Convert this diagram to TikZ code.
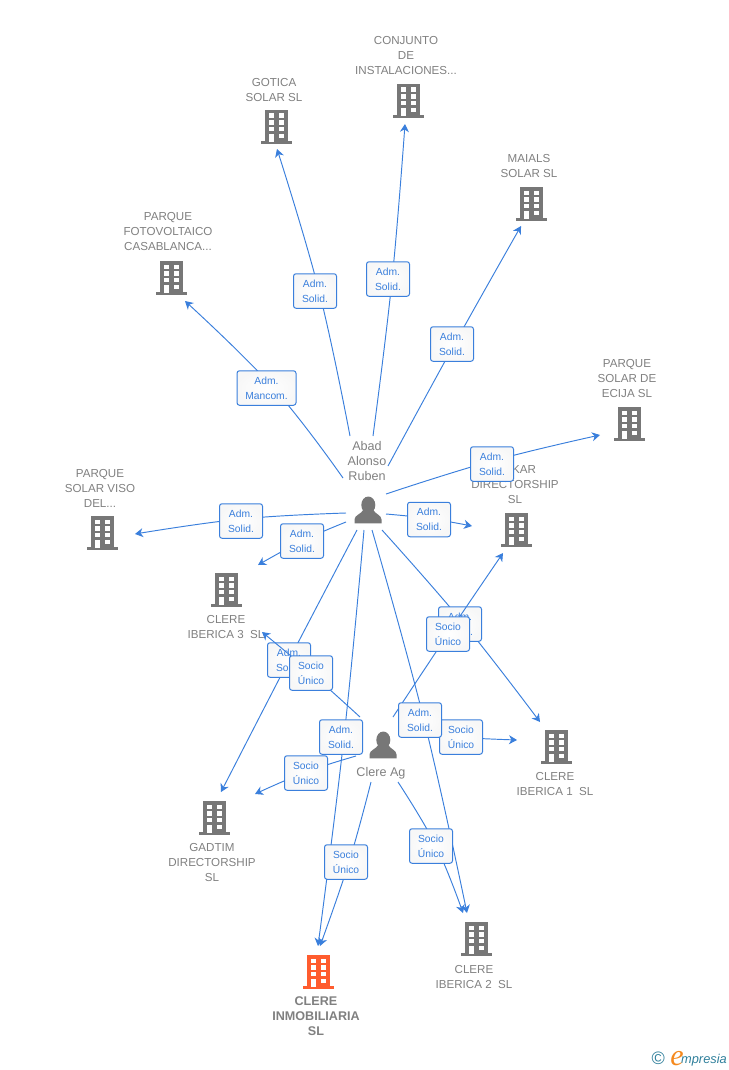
\documentclass[tikz,border=0pt]{standalone}
\usepackage{fontspec}
\setmainfont{Liberation Sans}
\newfontfamily\markfont{Liberation Serif}
\usetikzlibrary{calc,arrows.meta}

\definecolor{linkblue}{HTML}{3A7FDC}
\definecolor{iconGray}{HTML}{777777}
\definecolor{textGray}{HTML}{808080}
\definecolor{iconRed}{HTML}{FF5C2E}
\definecolor{markTeal}{HTML}{2F7F9B}
\definecolor{markOrange}{HTML}{F58A1F}

\tikzset{
    link/.style={linkblue, line width=0.95pt, -{Stealth[length=8pt,width=9pt,inset=2.5pt]}},
    tag/.style={draw=linkblue, line width=1pt, rounded corners=2.5pt, shade, inner color=white, outer color=black!3,
        text=linkblue, font=\fontsize{10.3}{14.7}\selectfont, align=center,
        minimum width=43pt, minimum height=34.5pt, inner sep=0pt},
    anchorbox/.style={minimum width=32pt, minimum height=34pt, inner sep=0pt},
    nametext/.style={text=textGray, font=\fontsize{11.6}{15}\selectfont, align=center, inner sep=0pt},
    pics/building/.style={code={
        \fill[#1] (-11,-17) rectangle (12,15);
        \fill[#1] (-15,14) rectangle (16,17);
        \foreach \r in {0,1,2} {
            \fill[white] (-6.8,-13.5+6.7*\r) rectangle (-2,-9+6.7*\r);
            \fill[white] (3,-13.5+6.7*\r) rectangle (7.8,-9+6.7*\r);
        }
        \fill[white] (-6.8,6.7) rectangle (-2,15);
        \fill[white] (3,6.7) rectangle (7.8,11.2);
    }},
    pics/person/.style={code={
        \fill[iconGray] (0.3,-5) ellipse (7 and 8.5);
        \fill[iconGray] (-13.5,13.3) -- (-13.5,9.5) .. controls (-13.5,5) and (-7,4.5) .. (-4,-1)
            -- (4.5,-1) .. controls (7.5,4.5) and (13.5,5) .. (13.5,9.5) -- (13.5,13.3) -- cycle;
    }},
}

\begin{document}
\begin{tikzpicture}[x=1pt,y=-1pt]
    \useasboundingbox (0,0) rectangle (728,1070);

    % Companies
    \foreach \id/\x/\y/\lx/\ly/\txt in {
        casablanca/171/278/168/232/{PARQUE\\FOTOVOLTAICO\\CASABLANCA...},
        gotica/276/127/274/90/{GOTICA\\SOLAR SL},
        conjunto/408/101/406/56/{CONJUNTO\\DE\\INSTALACIONES...},
        maials/531/204/529/166/{MAIALS\\SOLAR SL},
        ecija/629/424/627/379/{PARQUE\\SOLAR DE\\ECIJA SL},
        viso/102/533/100/488/{PARQUE\\SOLAR VISO\\DEL...},
        kar/516/530/515/485/{\hspace*{18pt}KAR\\DIRECTORSHIP\\SL},
        ibericaC/226/590/226/627/{CLERE\\IBERICA 3\ \ SL},
        ibericaA/556/747/555/784/{CLERE\\IBERICA 1\ \ SL},
        ibericaB/476/939/474/977/{CLERE\\IBERICA 2\ \ SL},
        gadtim/214/818/212/862/{GADTIM\\DIRECTORSHIP\\SL}} {
        \node[anchorbox] (\id) at (\x,\y) {};
        \pic at (\id) {building=iconGray};
        \node[nametext] (\id txt) at (\lx,\ly) {\txt};
    }
    \node[anchorbox] (inmo) at (318,972) {};
    \pic at (inmo) {building=iconRed};
    \node[nametext, font=\fontsize{12.6}{15}\selectfont\bfseries] (inmotxt) at (316,1016) {CLERE\\INMOBILIARIA\\SL};

    % Persons
    \node[nametext, font=\fontsize{12.6}{15}\selectfont] (abadtxt) at (367,461) {Abad\\Alonso\\Ruben};
    \node[minimum width=46pt, minimum height=94pt, inner sep=0pt] (abad) at (367,483) {};
    \pic at (368,510) {person};
    \node[nametext, font=\fontsize{12.6}{15}\selectfont] (cleretxt) at (381,773) {Clere Ag};
    \node[minimum width=30pt, minimum height=50pt, inner sep=0pt] (clere) at (383,755) {};
    \pic at (383,745) {person};

    % Links of the first person
    \foreach \id/\sx/\sy/\mx/\my/\ox/\oy/\tw/\txt/\dst/\ex/\ey in {
        tagCasa/-24/-5/266.5/388/7/0/59/{Adm.\\Mancom.}/casablanca/14/23,
        tagGot/-17/-47/315/291/4/0/43/{Adm.\\Solid.}/gotica/1/22,
        tagCon/6/-47/388/279/4/1/43/{Adm.\\Solid.}/conjunto/-3/23,
        tagMai/21/-17/452/344/2.5/0/43/{Adm.\\Solid.}/maials/-10/22,
        tagEci/19/11/492/464/0/-3/43/{Adm.\\Solid.}/ecija/-29/11,
        tagVis/-21/30/241/521/0/-2/43/{Adm.\\Solid.}/viso/33/1,
        tagIbC/-21/39/302/541/0/0/43/{Adm.\\Solid.}/ibericaC/32/-25,
        tagKar/19/31/429/519.5/0/-1/43/{Adm.\\Solid.}/kar/-44/-4,
        tagIbA/15/47/460/624/4/0/43/{Adm.\\Solid.}/ibericaA/-16/-25,
        tagGad/-10/47/289/660/0/0/43/{Adm.\\Solid.}/gadtim/7/-26,
        tagInm/-3/47/341/737/3/0/43/{Adm.\\Solid.}/inmo/0/-26} {
        \coordinate (s) at ($(abad)+(\sx,\sy)$);
        \coordinate (m) at (\mx,\my);
        \coordinate (e) at ($(\dst)+(\ex,\ey)$);
        \draw[link] plot[smooth, tension=0.7] coordinates {(s) ($(m)+(\ox,\oy)$) (e)};
        \node[tag, minimum width=\tw pt] (\id) at (m) {\txt};
    }
    \coordinate (s) at ($(abad)+(5,47)$);
    \coordinate (e) at ($(ibericaB)+(-9,-26)$);
    \draw[link] plot[smooth, tension=0.7] coordinates {(s) (424,720) (e)};

    % Links of the second person
    \foreach \id/\sx/\sy/\mx/\my/\ox/\oy/\txt/\dst/\ex/\ey in {
        tagKarB/10/-38/448/634/0/0/{Socio\\Único}/kar/-13/23,
        tagIbCB/-23/-38/311/673/0/0/{Socio\\Único}/ibericaC/36/42,
        tagGadB/-27/1/306/773/0/-1/{Socio\\Único}/gadtim/41/-24,
        tagInmB/-12/27/346/862/3/0/{Socio\\Único}/inmo/2/-26,
        tagIbBB/15/27/431/846/5/0/{Socio\\Único}/ibericaB/-13/-26,
        tagIbAB/22/-22/461/737/0/0.5/{Socio\\Único}/ibericaA/-39/-7} {
        \coordinate (s) at ($(clere)+(\sx,\sy)$);
        \coordinate (m) at (\mx,\my);
        \coordinate (e) at ($(\dst)+(\ex,\ey)$);
        \draw[link] plot[smooth, tension=0.7] coordinates {(s) ($(m)+(\ox,\oy)$) (e)};
        \node[tag] (\id) at (m) {\txt};
    }
    \node[tag] (tagIbB) at (420,720) {Adm.\\Solid.};

    % Footer mark
    \node[text=markTeal, font=\fontsize{18}{18}\selectfont, inner sep=0pt] (copymark) at (658.3,1058.5) {©};
    \node[text=markTeal, font=\fontsize{12.8}{13}\selectfont\itshape, inner sep=0pt, anchor=base west] (markword) at (681,1063) {mpresia};
    \node[text=markOrange, font=\fontsize{30}{30}\markfont\itshape, inner sep=0pt, anchor=base east] (marke) at (684,1065) {e};
\end{tikzpicture}
\end{document}
